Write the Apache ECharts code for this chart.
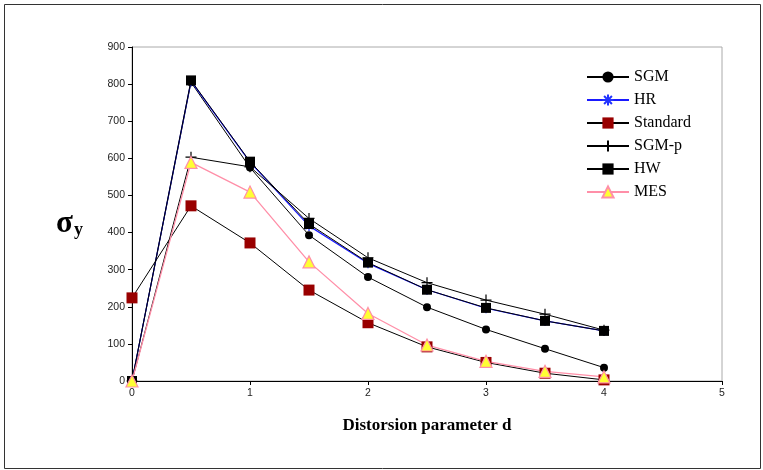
<!DOCTYPE html>
<html>
<head>
<meta charset="utf-8">
<script src="https://cdn.jsdelivr.net/npm/echarts@6/dist/echarts.min.js"></script>
<style>html,body{margin:0;padding:0;background:#fff}#c{width:763px;height:470px}</style>
</head>
<body>
<div id="c"></div>
<script>
const dValues = [0, 0.5, 1, 1.5, 2, 2.5, 3, 3.5, 4];
const sgm      = [0, 805, 575, 393, 280, 199, 139, 87, 36];
const hr       = [0, 808, 590, 418, 317, 246, 196, 162, 135];
const standard = [224, 472, 372, 245, 157, 92, 50, 21, 3];
const sgmP     = [0, 603, 577, 438, 332, 265, 218, 180, 137];
const hw       = [0, 810, 591, 423, 319, 246, 197, 162, 135];
const mes      = [0, 589, 509, 321, 182, 97, 53, 26, 11];
const xTicks = [0, 1, 2, 3, 4, 5];
const yTicks = [0, 100, 200, 300, 400, 500, 600, 700, 800, 900];

const pair = arr => dValues.map((d, i) => [d, arr[i]]);
const chart = echarts.init(document.getElementById('c'), null, {renderer: 'canvas'});
const plusPath = 'path://M0,5L10,5M5,0L5,10';
const starPath = 'path://M0,5L10,5M5,0L5,10M1.5,1.5L8.5,8.5M8.5,1.5L1.5,8.5';

chart.setOption({
  animation: false,
  backgroundColor: '#fff',
  graphic: [{
    type: 'rect', shape: {x: 4.5, y: 4.5, width: 756, height: 464},
    style: {fill: 'none', stroke: '#333', lineWidth: 1}, silent: true, z: -1
  }, {
    type: 'text', left: 56, top: 208,
    style: {text: 'σ', font: 'bold 31px "Liberation Serif", serif', fill: '#000'}
  }, {
    type: 'text', left: 74, top: 221,
    style: {text: 'y', font: 'bold 18px "Liberation Serif", serif', fill: '#000'}
  }],
  grid: {left: 132, right: 41, top: 47, bottom: 89, show: true, borderColor: '#aaa', borderWidth: 1},
  legend: {
    orient: 'vertical', left: 586, top: 69, padding: 0, itemWidth: 42, itemHeight: 14, itemGap: 7,
    textStyle: {fontFamily: '"Liberation Serif", serif', fontSize: 16, color: '#000'},
    data: ['SGM', 'HR', 'Standard', 'SGM-p', 'HW', 'MES']
  },
  xAxis: {
    type: 'value', min: 0, max: 5, interval: 1,
    name: 'Distorsion parameter d', nameLocation: 'middle', nameGap: 36,
    nameTextStyle: {fontFamily: '"Liberation Serif", serif', fontWeight: 'bold', fontSize: 17, color: '#000'},
    axisLine: {lineStyle: {color: '#000', width: 1}},
    axisTick: {show: true, length: 4, lineStyle: {color: '#000'}},
    axisLabel: {fontFamily: '"Liberation Sans", Arial, sans-serif', fontSize: 10.5, color: '#222', margin: 7,
      formatter: v => xTicks.includes(v) ? String(v) : ''},
    splitLine: {show: false}
  },
  yAxis: {
    type: 'value', min: 0, max: 900, interval: 100,
    axisLine: {show: true, lineStyle: {color: '#000', width: 1}},
    axisTick: {show: true, length: 4, lineStyle: {color: '#000'}},
    axisLabel: {fontFamily: '"Liberation Sans", Arial, sans-serif', fontSize: 10.5, color: '#222', margin: 7,
      formatter: v => yTicks.includes(v) ? String(v) : ''},
    splitLine: {show: false}
  },
  series: [
    {name: 'SGM', type: 'line', data: pair(sgm), symbol: 'circle', symbolSize: 8,
      lineStyle: {color: '#000', width: 1}, itemStyle: {color: '#000'}},
    {name: 'HR', type: 'line', data: pair(hr), symbol: starPath, symbolSize: 10,
      lineStyle: {color: '#1a1aff', width: 1.2}, itemStyle: {color: '#2233ff', borderColor: '#2233ff', borderWidth: 1.3}},
    {name: 'Standard', type: 'line', data: pair(standard), symbol: 'rect', symbolSize: 11,
      lineStyle: {color: '#000', width: 1}, itemStyle: {color: '#990000'}},
    {name: 'SGM-p', type: 'line', data: pair(sgmP), symbol: plusPath, symbolSize: 11,
      lineStyle: {color: '#000', width: 1}, itemStyle: {color: '#000', borderColor: '#000', borderWidth: 1.2}},
    {name: 'HW', type: 'line', data: pair(hw), symbol: 'rect', symbolSize: 10,
      lineStyle: {color: '#000', width: 1}, itemStyle: {color: '#000'}},
    {name: 'MES', type: 'line', data: pair(mes), symbol: 'triangle', symbolSize: 12,
      lineStyle: {color: '#ff8fa8', width: 1.3}, itemStyle: {color: '#ffff33', borderColor: '#ff8fa8', borderWidth: 1.2}}
  ]
});
</script>
</body>
</html>
